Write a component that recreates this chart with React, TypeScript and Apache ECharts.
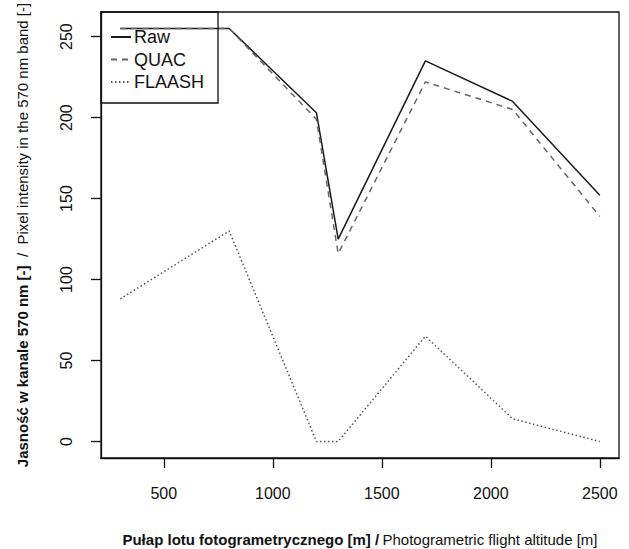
import React, { useEffect, useRef } from "react";
import * as echarts from "echarts";

const altitudes = [300, 800, 1200, 1300, 1700, 2100, 2500];
const rawValues = [255, 255, 203, 125, 235, 210, 152];
const quacValues = [255, 255, 199, 116, 222, 205, 139];
const flaashValues = [88, 130, 0, 0, 65, 14, 0];
const xTicks = [500, 1000, 1500, 2000, 2500];
const yTicks = [0, 50, 100, 150, 200, 250];
const seriesNames = ["Raw", "QUAC", "FLAASH"];

const pairs = (ys: number[]) => altitudes.map((x, i) => [x, ys[i]]);

const NARROW = "'Liberation Sans Narrow', 'Arial Narrow', 'Liberation Sans', sans-serif";
const SANS = "'Liberation Sans', Arial, sans-serif";

export default function App() {
  const ref = useRef<HTMLDivElement>(null);
  useEffect(() => {
    document.body.style.margin = "0";
    const chart = echarts.init(ref.current!, null, { renderer: "svg" });
    const xSpan = altitudes[altitudes.length - 1] - altitudes[0];
    const yMaxData = Math.max(...rawValues, ...quacValues, ...flaashValues);
    const yMinData = Math.min(...rawValues, ...quacValues, ...flaashValues);
    const ySpan = yMaxData - yMinData;
    const axisLine = { show: true, onZero: false, lineStyle: { color: "#111", width: 1.3 } };
    chart.setOption({
      animation: false,
      backgroundColor: "#ffffff",
      grid: {
        left: 101,
        right: 10,
        top: 12,
        bottom: 91,
        show: true,
        borderColor: "#111",
        borderWidth: 1.3,
        backgroundColor: "transparent",
        containLabel: false,
        outerBoundsMode: "none",
      },
      legend: {
        orient: "vertical",
        left: 101,
        top: 12,
        itemWidth: 20,
        itemHeight: 10,
        itemGap: 0.5,
        padding: [14, 14, 10, 9],
        borderColor: "#111",
        borderWidth: 1.3,
        borderRadius: 0,
        backgroundColor: "transparent",
        itemStyle: { opacity: 0, borderWidth: 0 },
        textStyle: { fontSize: 18, color: "#111", lineHeight: 22, fontFamily: SANS, padding: [0, 0, 0, -2] },
        data: seriesNames,
      },
      xAxis: {
        type: "value",
        min: altitudes[0] - xSpan * 0.04,
        max: altitudes[altitudes.length - 1] + xSpan * 0.04,
        axisLine,
        splitLine: { show: false },
        axisTick: { show: true, length: 10, lineStyle: { color: "#111", width: 1.3 }, customValues: xTicks },
        axisLabel: {
          customValues: xTicks,
          margin: 27,
          fontSize: 16,
          color: "#111",
          fontFamily: SANS,
          formatter: (v: number) => String(v),
        },
        name: "{b|Pułap lotu fotogrametrycznego [m] /} {n|Photogrametric flight altitude [m]}",
        nameLocation: "middle",
        nameGap: 74,
        nameTextStyle: {
          rich: {
            b: { fontWeight: "bold", fontSize: 15, fontFamily: NARROW, color: "#111" },
            n: { fontWeight: "normal", fontSize: 15, fontFamily: NARROW, color: "#111" },
          },
        },
      },
      yAxis: {
        type: "value",
        min: yMinData - ySpan * 0.04,
        max: yMaxData + ySpan * 0.04,
        axisLine,
        splitLine: { show: false },
        axisTick: { show: true, length: 10, lineStyle: { color: "#111", width: 1.3 }, customValues: yTicks },
        axisLabel: {
          customValues: yTicks,
          margin: 27,
          fontSize: 16,
          color: "#111",
          rotate: 90,
          fontFamily: SANS,
          formatter: (v: number) => String(v),
        },
        name: "{b|Jasność w kanale 570 nm [-]}{n|  /  Pixel intensity in the 570 nm band [-]}",
        nameLocation: "middle",
        nameGap: 71,
        nameRotate: 90,
        nameTextStyle: {
          rich: {
            b: { fontWeight: "bold", fontSize: 15, fontFamily: NARROW, color: "#111" },
            n: { fontWeight: "normal", fontSize: 15, fontFamily: NARROW, color: "#111" },
          },
        },
      },
      series: [
        {
          name: seriesNames[0],
          type: "line",
          data: pairs(rawValues),
          symbol: "none",
          lineStyle: { color: "#1a1a1a", width: 1.5, type: "solid" },
          itemStyle: { color: "#1a1a1a" },
        },
        {
          name: seriesNames[1],
          type: "line",
          data: pairs(quacValues),
          symbol: "none",
          lineStyle: { color: "#666", width: 1.5, type: [6, 5] },
          itemStyle: { color: "#666" },
        },
        {
          name: seriesNames[2],
          type: "line",
          data: pairs(flaashValues),
          symbol: "none",
          lineStyle: { color: "#555", width: 1.5, type: [1.5, 2.5] },
          itemStyle: { color: "#555" },
        },
      ],
    });
    return () => chart.dispose();
  }, []);
  return <div ref={ref} style={{ width: 629, height: 549 }} />;
}
